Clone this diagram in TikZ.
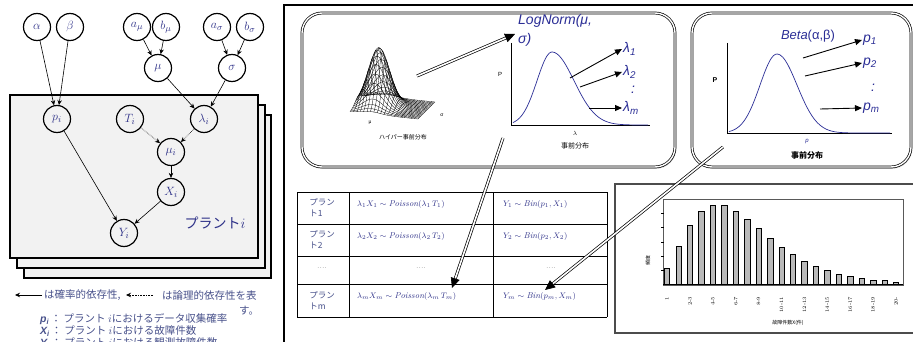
\documentclass[tikz,border=0pt]{standalone}
\usepackage{fontspec}
\setsansfont{Liberation Sans}
\newfontfamily\jpfont{Noto Sans CJK JP}
\usetikzlibrary{arrows.meta,calc,shadows}
\definecolor{nodeblue}{HTML}{2E3188}
\definecolor{legblue}{HTML}{47508A}
\definecolor{curveblue}{HTML}{2B2E96}
\definecolor{platefill}{HTML}{F2F2F2}

\begin{document}
\begin{tikzpicture}[x=1pt, y=-1pt,
  var/.style={circle, draw, line width=1.2pt, minimum size=27pt, inner sep=0pt,
    text=nodeblue, font=\fontsize{13}{13}\selectfont},
  dep/.style={-{Stealth[length=5pt,width=4.5pt]}, line width=0.6pt},
  logic/.style={dep, densely dotted},
  plate/.style={draw, line width=1.2pt, fill=platefill},
  panel/.style={draw, double, double distance=1.4pt, line width=0.7pt,
    rounded corners=20pt, fill=white,
    drop shadow={shadow xshift=1.2pt, shadow yshift=-1.6pt, opacity=0.4}},
  dbl/.style={double, double distance=1.6pt, line width=0.7pt, shorten >=7pt},
  bighead/.style={-{Triangle[length=10pt,width=9pt]}, line width=0.6pt},
  pick/.style={-{Triangle[length=7pt,width=6pt]}, line width=0.9pt},
  wire/.style={line width=0.3pt},
  curve/.style={curveblue, line width=0.7pt},
  distlab/.style={text=curveblue, font=\sffamily\itshape\fontsize{14}{19}\selectfont, inner sep=1pt},
  legend/.style={text=legblue, font=\jpfont\fontsize{10.5}{12}\selectfont, inner sep=0pt},
  cell/.style={text=nodeblue, font=\fontsize{8.5}{10}\selectfont, inner sep=0pt},
  jcell/.style={text=legblue, font=\jpfont\fontsize{8.5}{11}\selectfont, align=left, inner sep=0pt},
  axlab/.style={font=\fontsize{5}{6}\selectfont, inner sep=0.5pt},
  bar/.style={draw, fill=gray!55, line width=0.5pt}]

  \useasboundingbox (0,0) rectangle (913,342);

  % plates
  \draw[plate] (24,115) rectangle (271,278);
  \draw[plate] (17,105) rectangle (265,268);
  \draw[plate] (10,95) rectangle (258,258);
  \node[text=nodeblue, font=\jpfont\fontsize{14}{14}\selectfont] (platei) at (215,223) {プラント$i$};

  % hyperparameters
  \node[var] (alpha) at (37,27) {$\alpha$};
  \node[var] (beta) at (70,27) {$\beta$};
  \node[var] (amu) at (137,27) {$a_\mu$};
  \node[var] (bmu) at (166,27) {$b_\mu$};
  \node[var] (asig) at (217,27) {$a_\sigma$};
  \node[var] (bsig) at (250,27) {$b_\sigma$};
  \node[var] (mu) at (158,68) {$\mu$};
  \node[var] (sig) at (232,68) {$\sigma$};

  % plant variables
  \node[var] (pi) at (57,119) {$p_i$};
  \node[var] (Ti) at (130,119) {$T_i$};
  \node[var] (lami) at (204,119) {$\lambda_i$};
  \node[var] (mui) at (171,152) {$\mu_i$};
  \node[var] (Xi) at (171,192) {$X_i$};
  \node[var] (Yi) at (124,233) {$Y_i$};

  \draw[dep] (alpha) -- (pi);
  \draw[dep] (beta) -- (pi);
  \draw[dep] (amu) -- (mu);
  \draw[dep] (bmu) -- (mu);
  \draw[dep] (asig) -- (sig);
  \draw[dep] (bsig) -- (sig);
  \draw[dep] (mu) -- (lami);
  \draw[dep] (sig) -- (lami);
  \draw[logic] (Ti) -- (mui);
  \draw[logic] (lami) -- (mui);
  \draw[dep] (mui) -- (Xi);
  \draw[dep] (Xi) -- (Yi);
  \draw[dep] (pi) -- (Yi);

  % legend
  \coordinate (sarr) at (15,295);
  \node[legend, anchor=west] (slab) at (44,295) {は確率的依存性,};
  \draw[dep] ($(slab.west)+(-2,0)$) -- (sarr);
  \coordinate (darr) at (126,295);
  \coordinate (dstart) at (153,295);
  \draw[logic] (dstart) -- (darr);
  \node[legend, anchor=west] (dlab) at (162,295) {は論理的依存性を表};
  \node[legend, anchor=west] (dlab2) at (239,311) {す。};
  \node[legend, anchor=west] (pdesc) at (40,319)
    {{\sffamily\bfseries\itshape p\textsubscript{i}}\,： プラント $i$におけるデータ収集確率};
  \node[legend, anchor=west] (xdesc) at (40,331)
    {{\sffamily\bfseries\itshape X\textsubscript{i}}\,： プラント $i$における故障件数};
  \node[legend, anchor=west] (ydesc) at (40,343)
    {{\sffamily\bfseries\itshape Y\textsubscript{i}}\,： プラント $i$における観測故障件数};

  % right frame
  \draw[line width=1.5pt] (284,350) -- (284,5) -- (920,5);

  % panels
  \draw[panel] (302,13) rectangle (675,167);
  \draw[panel] (692,13) rectangle (911,167);

  % hyper-prior surface
  \foreach \i in {0,...,20}
    \draw[wire] plot[domain=0:1, samples=25, smooth]
      ({350+68*\i/20+17*\x}, {112+7*\i/20-17*\x-58*exp(-((\i/20-0.3)*(\i/20-0.3)/0.045+(\x-0.5)*(\x-0.5)/0.08))});
  \foreach \i in {0,...,20}
    \draw[wire] plot[domain=0:1, samples=25, smooth]
      ({350+68*\x+17*\i/20}, {112+7*\x-17*\i/20-58*exp(-((\x-0.3)*(\x-0.3)/0.045+(\i/20-0.5)*(\i/20-0.5)/0.08))});
  \node[axlab, font=\sffamily\fontsize{5}{6}\selectfont] (hmu) at (370,123) {μ};
  \node[axlab, font=\sffamily\fontsize{5}{6}\selectfont] (hsig) at (442,115) {σ};
  \node[axlab, font=\jpfont\fontsize{6}{7}\selectfont] (hyper) at (403,137) {ハイパー事前分布};

  % lognormal prior
  \draw[line width=0.6pt] (511,43) -- (511,125) -- (650,125);
  \draw[curve] plot[domain=513:552, samples=30, smooth] (\x, {125-73*exp(-((\x-552)*(\x-552))/450)});
  \draw[curve] plot[domain=552:648, samples=40, smooth] (\x, {125-73*exp(-((\x-552)*(\x-552))/968)});
  \node[distlab, anchor=north west, align=left] (lognorm) at (517,13) {LogNorm(μ,\\σ)};
  \node[axlab, font=\sffamily\fontsize{6}{7}\selectfont] (lnP) at (500,74) {P};
  \node[axlab, font=\fontsize{6}{7}\selectfont] (lnx) at (575,133) {$\lambda$};
  \node[axlab, font=\jpfont\fontsize{7}{8}\selectfont] (lnname) at (575,146) {事前分布};
  \node[distlab, anchor=west] (lam1) at (622,49) {λ\textsubscript{1}};
  \node[distlab, anchor=west] (lam2) at (622,72) {λ\textsubscript{2}};
  \node[distlab] (lamdots) at (633,90) {:};
  \node[distlab, anchor=west] (lamm) at (622,108) {λ\textsubscript{m}};
  \coordinate (c1) at (570,78);
  \coordinate (c2) at (580,87);
  \coordinate (c3) at (589,108);
  \draw[pick] (c1) -- (lam1.west);
  \draw[pick] (c2) -- (lam2.west);
  \draw[pick] (c3) -- (lamm.west);

  % beta prior
  \draw[line width=0.6pt] (727,43) -- (727,133) -- (892,133);
  \draw[curve] plot[domain=729:777, samples=30, smooth] (\x, {133-79*exp(-((\x-777)*(\x-777))/578)});
  \draw[curve] plot[domain=777:890, samples=40, smooth] (\x, {133-79*exp(-((\x-777)*(\x-777))/800)});
  \node[distlab, font=\sffamily\fontsize{13}{15}\selectfont] (betaname) at (808,36) {\textit{Beta}(α,β)};
  \node[axlab, font=\sffamily\bfseries\fontsize{7}{8}\selectfont] (bP) at (715,80) {P};
  \node[axlab, font=\sffamily\itshape\fontsize{6}{7}\selectfont, text=curveblue] (bx) at (807,142) {p};
  \node[axlab, font=\jpfont\bfseries\fontsize{8}{9}\selectfont] (bname) at (807,155) {事前分布};
  \node[distlab, anchor=west] (p1) at (862,40) {p\textsubscript{1}};
  \node[distlab, anchor=west] (p2) at (862,63) {p\textsubscript{2}};
  \node[distlab] (pdots) at (873,88) {:};
  \node[distlab, anchor=west] (pm) at (862,108) {p\textsubscript{m}};
  \coordinate (d1) at (803,58);
  \coordinate (d2) at (805,76);
  \coordinate (d3) at (820,109);
  \draw[pick] (d1) -- (p1.west);
  \draw[pick] (d2) -- (p2.west);
  \draw[pick] (d3) -- (pm.west);

  % table
  \foreach \y in {192,224,256,284,317}
    \draw[line width=1pt] (297,\y) -- (607,\y);
  \foreach \x in {297,349,493,607}
    \draw[line width=1pt] (\x,192) -- (\x,317);
  \node[jcell] (r1a) at (322,208) {プラン\\ト1};
  \node[cell, anchor=west] (r1b) at (357,204) {$\lambda_1X_1 \sim \mathit{Poisson}(\lambda_1\, T_1)$};
  \node[cell, anchor=west] (r1c) at (503,204) {$Y_1 \sim \mathit{Bin}(p_1, X_1)$};
  \node[jcell] (r2a) at (322,240) {プラン\\ト2};
  \node[cell, anchor=west] (r2b) at (357,236) {$\lambda_2X_2 \sim \mathit{Poisson}(\lambda_2\, T_2)$};
  \node[cell, anchor=west] (r2c) at (503,236) {$Y_2 \sim \mathit{Bin}(p_2, X_2)$};
  \node[cell, text=gray] (r3a) at (322,268) {....};
  \node[cell, text=gray] (r3b) at (421,268) {....};
  \node[cell, text=gray] (r3c) at (551,268) {....};
  \node[jcell] (r4a) at (322,301) {プラン\\トm};
  \node[cell, anchor=west] (r4b) at (357,296) {$\lambda_mX_m \sim \mathit{Poisson}(\lambda_m\, T_m)$};
  \node[cell, anchor=west] (r4c) at (503,296) {$Y_m \sim \mathit{Bin}(p_m, X_m)$};

  % bar chart
  \draw[line width=1.4pt, gray!60!black] (920,333) -- (615,333) -- (615,184) -- (920,184);
  \draw[line width=0.9pt, gray!70!black] (663,199) rectangle (903,285);
  \foreach \h [count=\k from 0] in {16,38,59,73,79,79,73,65,56,46,37,30,23,18,14,10,8,6,4,4,2}
    \draw[bar] ({664.3+11.45*\k},284) rectangle ++(5.4,-\h);
  \draw[line width=1pt] (663,284) -- (903,284);
  \foreach \y in {213,227,242,256,270}
    \draw[line width=0.5pt] (661,\y) -- (664,\y);
  \foreach \t [count=\k from 0] in {1,2-3,4-5,6-7,8-9,10-11,12-13,14-15,16-17,18-19,20-}
    \node[axlab, rotate=90, anchor=east] at ({667+22.9*\k},296) {\t};
  \node[axlab, rotate=90, font=\jpfont\fontsize{5}{6}\selectfont] (freq) at (648,260) {頻度};
  \node[axlab, font=\jpfont\fontsize{5}{6}\selectfont] (xtitle) at (788,323) {故障件数X(件)};

  % double arrows
  \coordinate (hypout) at (417,76);
  \coordinate (lnin) at (515,34);
  \draw[dbl] (hypout) -- (lnin);
  \draw[bighead] ($(lnin)!10pt!(hypout)$) -- (lnin);
  \coordinate (lnout) at (503,138);
  \coordinate (poisin) at (452,288);
  \draw[dbl] (lnout) -- (poisin);
  \draw[bighead] ($(poisin)!10pt!(lnout)$) -- (poisin);
  \coordinate (betaout) at (723,147);
  \coordinate (binin) at (545,290);
  \draw[dbl] (betaout) -- (binin);
  \draw[bighead] ($(binin)!10pt!(betaout)$) -- (binin);
\end{tikzpicture}
\end{document}
